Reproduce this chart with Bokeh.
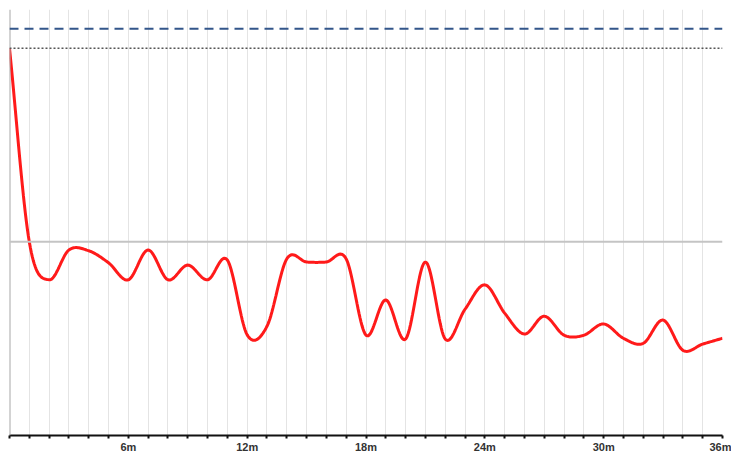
import numpy as np
from bokeh.plotting import figure
from bokeh.models import Span, FixedTicker, Range1d
from bokeh.embed import file_html
from bokeh.resources import INLINE

# Data (months 0..36)
months = list(range(0, 37))
values = [100, 50, 40.2, 47.9, 47.7, 44.6, 40.2, 47.9, 40.2, 44.0,
          40.2, 45.3, 26.0, 28.2, 45.6, 44.8, 44.8, 45.6, 25.9, 35.0,
          24.9, 44.8, 24.9, 32.6, 38.9, 31.6, 26.2, 30.8, 25.9, 25.9,
          28.8, 25.1, 23.8, 29.8, 22.0, 23.6, 25.1]
tick_months = list(range(0, 37))
label_months = [6, 12, 18, 24, 30, 36]
reference_level = 50
upper_dotted_level = 100
upper_dashed_level = 105


def catmull_rom(xs, ys, steps=20):
    xs = np.asarray(xs, float)
    ys = np.asarray(ys, float)
    n = len(ys)
    m = np.zeros(n)
    m[0] = ys[1] - ys[0]
    m[-1] = ys[-1] - ys[-2]
    m[1:-1] = (ys[2:] - ys[:-2]) / 2.0
    out_x, out_y = [], []
    for i in range(n - 1):
        t = np.linspace(0, 1, steps, endpoint=(i == n - 2))
        h00 = 2 * t**3 - 3 * t**2 + 1
        h10 = t**3 - 2 * t**2 + t
        h01 = -2 * t**3 + 3 * t**2
        h11 = t**3 - t**2
        dx = xs[i + 1] - xs[i]
        out_x.extend(xs[i] + t * dx)
        out_y.extend(h00 * ys[i] + h10 * dx * m[i] + h01 * ys[i + 1] + h11 * dx * m[i + 1])
    return out_x, out_y


sx, sy = catmull_rom(months, values)

p = figure(width=731, height=455, output_backend="svg", toolbar_location=None,
           x_range=Range1d(0, 36), y_range=Range1d(0, 110),
           min_border_left=9, min_border_right=9, min_border_top=9, min_border_bottom=0)
p.outline_line_color = None
p.background_fill_color = "white"
p.border_fill_color = "white"

# grid
p.ygrid.grid_line_color = None
p.xgrid.ticker = FixedTicker(ticks=tick_months)
p.xgrid.grid_line_color = "#e4e4e4"
p.xgrid.grid_line_width = 1

# y axis hidden, replaced by a vertical line at x=0
p.yaxis.visible = False
p.add_layout(Span(location=0, dimension="height", line_color="#a8a8a8", line_width=2))

# x axis
p.xaxis.ticker = FixedTicker(ticks=tick_months)
p.xaxis.major_label_overrides = {m: (f"{m}m" if m in label_months else "") for m in tick_months}
p.xaxis.axis_line_color = "#111111"
p.xaxis.axis_line_width = 2
p.xaxis.major_tick_line_color = "#111111"
p.xaxis.major_tick_line_width = 2
p.xaxis.major_tick_in = 0
p.xaxis.major_tick_out = 3
p.xaxis.minor_tick_line_color = None
p.xaxis.major_label_standoff = 2
p.xaxis.major_label_text_font = "Liberation Sans"
p.xaxis.major_label_text_font_style = "bold"
p.xaxis.major_label_text_font_size = "11px"
p.xaxis.major_label_text_color = "#333333"

# horizontal reference lines
p.add_layout(Span(location=reference_level, dimension="width", line_color="#c4c4c4", line_width=2))
p.add_layout(Span(location=upper_dotted_level, dimension="width", line_color="#555555",
                  line_width=1.5, line_dash="2 2"))
p.add_layout(Span(location=upper_dashed_level, dimension="width", line_color="#33568a",
                  line_width=2, line_dash="9 6"))

# red smoothed line
p.line(sx, sy, line_color="#ff1a1a", line_width=3)

open("out.html", "w").write(file_html(p, INLINE))
